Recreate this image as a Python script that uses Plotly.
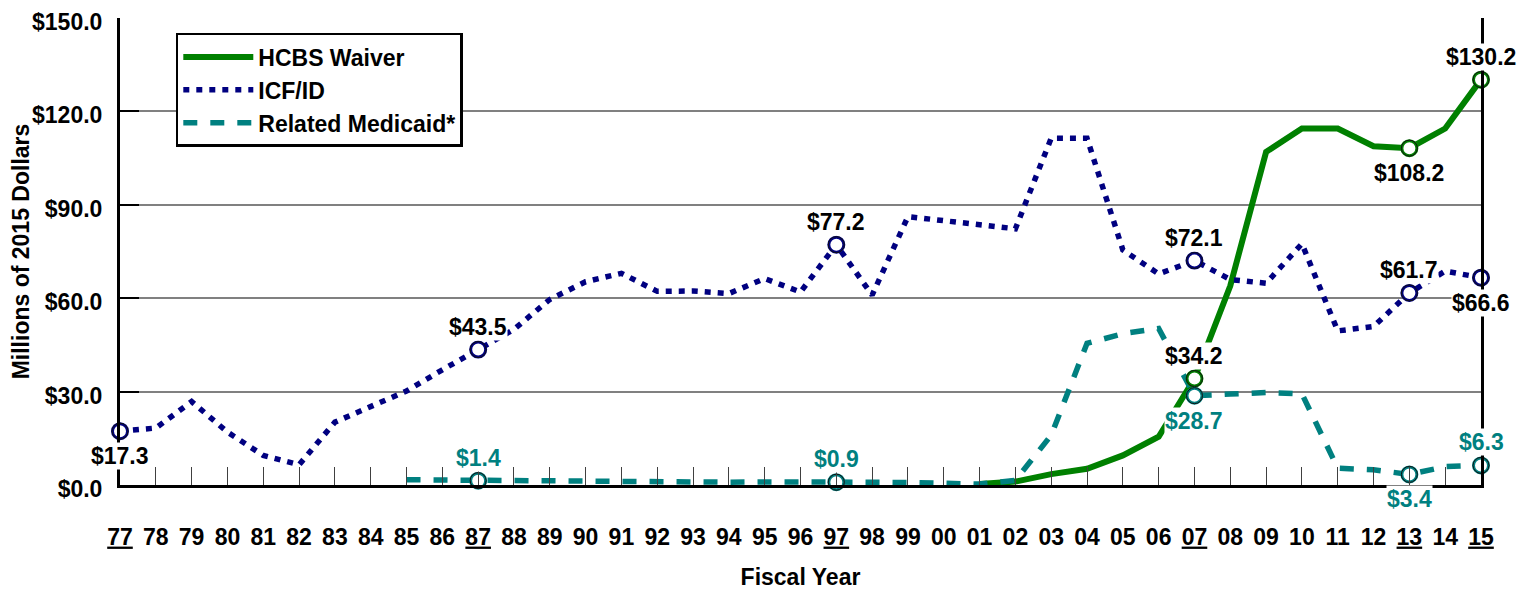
import plotly.graph_objects as go

# ---------------- data ----------------
YEARS = list(range(1977, 2016))
TICK_LABELS = ["77", "78", "79", "80", "81", "82", "83", "84", "85", "86",
               "87", "88", "89", "90", "91", "92", "93", "94", "95", "96",
               "97", "98", "99", "00", "01", "02", "03", "04", "05", "06",
               "07", "08", "09", "10", "11", "12", "13", "14", "15"]
UNDERLINED = ["77", "87", "97", "07", "13", "15"]

HCBS = [None] * 24 + [0.3, 1.1, 3.5, 5.2, 9.5, 15.5, 34.2, 64.0, 107.0,
                      114.5, 114.5, 108.8, 108.2, 114.5, 130.2]
ICF = [17.3, 18.3, 26.8, 17.0, 9.5, 6.5, 20.2, 25.0, 30.2, 37.0,
       43.5, 50.0, 59.6, 65.3, 68.0, 62.2, 62.3, 61.5, 66.3, 62.0,
       77.2, 61.0, 86.2, 85.0, 83.8, 82.3, 111.4, 111.4, 75.5, 67.8,
       72.1, 66.0, 64.8, 77.5, 49.5, 50.9, 61.7, 68.7, 66.6]
RELATED = [None] * 8 + [1.7, 1.6, 1.4, 1.2, 1.1, 1.0, 0.9, 0.9, 0.9, 0.9,
                        1.0, 1.1, 0.9, 0.9, 0.8, 0.6, 0.3, 1.5, 16.0, 45.5,
                        48.6, 50.3, 28.7, 29.2, 29.7, 29.3, 5.4, 4.9, 3.4,
                        5.9, 6.3]

# labelled points: (year, position)
HCBS_LABELS = [(2007, "above"), (2013, "below"), (2015, "above")]
ICF_LABELS = [(1977, "below"), (1987, "above"), (1997, "above"), (2007, "above"),
              (2013, "above"), (2015, "below")]
RELATED_LABELS = [(1987, "above"), (1997, "above"), (2007, "below"),
                  (2013, "below"), (2015, "above")]

GREEN = "#008000"
NAVY = "#000080"
TEAL = "#008080"
FONT = "Liberation Sans, Arial, sans-serif"
FS = 23

fig = go.Figure()

series = [
    ("HCBS Waiver", HCBS, GREEN, "solid", 6, HCBS_LABELS, "black"),
    ("ICF/ID", ICF, NAVY, "6px,7px", 5.5, ICF_LABELS, "black"),
    ("Related Medicaid*", RELATED, TEAL, "14px,13px", 5.5, RELATED_LABELS, TEAL),
]

for name, vals, color, dash, lw, labels, lcolor in series:
    fig.add_trace(go.Scatter(
        x=YEARS, y=vals, mode="lines", name=name,
        line=dict(color=color, width=lw, dash=dash),
        connectgaps=False, cliponaxis=False,
    ))

annotations = []
for name, vals, color, dash, lw, labels, lcolor in series:
    mx = [yr for yr, _ in labels]
    my = [vals[YEARS.index(yr)] for yr in mx]
    fig.add_trace(go.Scatter(
        x=mx, y=my, mode="markers", showlegend=False, cliponaxis=False,
        marker=dict(size=15, color="white",
                    line=dict(color=color, width=3)),
    ))
    fig.add_trace(go.Scatter(
        x=mx, y=my, mode="markers", showlegend=False, cliponaxis=False,
        marker=dict(size=16, color="rgba(0,0,0,0)",
                    line=dict(color="#111111", width=1)),
    ))
    for yr, pos in labels:
        v = vals[YEARS.index(yr)]
        annotations.append(dict(
            x=yr, y=v, xref="x", yref="y", text=f"${v:.1f}",
            showarrow=False, bgcolor="white", borderpad=0,
            yshift=23 if pos == "above" else -25,
            font=dict(family=FONT, size=FS, color=lcolor, weight="bold"),
        ))

ticktext = [f"<u>{t}</u>" if t in UNDERLINED else t for t in TICK_LABELS]

# page body has an 8px default margin, so the figure is sized to fit the window
fig.update_layout(
    width=1525, height=583,
    margin=dict(l=112, r=52, t=10, b=106),
    paper_bgcolor="white", plot_bgcolor="white",
    font=dict(family=FONT, size=FS, color="black", weight="bold"),
    annotations=annotations,
    legend=dict(
        x=0.041, y=0.968, xanchor="left", yanchor="top",
        bgcolor="white", bordercolor="black", borderwidth=2.5,
        font=dict(family=FONT, size=23, color="black", weight="bold"),
        itemwidth=70, tracegroupgap=0,
    ),
    xaxis=dict(
        range=[1977, 2015], tickmode="array", tickvals=YEARS, ticktext=ticktext,
        ticks="inside", ticklen=18, tickcolor="#404040", tickwidth=1,
        ticklabelstandoff=29, automargin=False, ticklabeloverflow="allow",
        showline=True, linecolor="black", linewidth=3, showgrid=False,
        zeroline=False,
        tickfont=dict(family=FONT, size=FS, color="black", weight="bold"),
        title=dict(text="Fiscal Year", standoff=21,
                   font=dict(family=FONT, size=FS, color="black", weight="bold")),
    ),
    yaxis=dict(
        range=[0, 150], tickmode="linear", tick0=0, dtick=30,
        tickformat="$.1f", automargin=False, ticklabeloverflow="allow",
        ticks="inside", ticklen=19, tickcolor="black", tickwidth=1.5,
        ticklabelstandoff=10, ticklabelshift=4,
        showline=True, linecolor="black", linewidth=3, mirror=True,
        showgrid=True, gridcolor="#808080", gridwidth=1.5, zeroline=False,
        tickfont=dict(family=FONT, size=FS, color="black", weight="bold"),
        title=dict(text="Millions of 2015 Dollars", standoff=1,
                   font=dict(family=FONT, size=FS, color="black", weight="bold")),
    ),
)

fig.write_html("out.html")
